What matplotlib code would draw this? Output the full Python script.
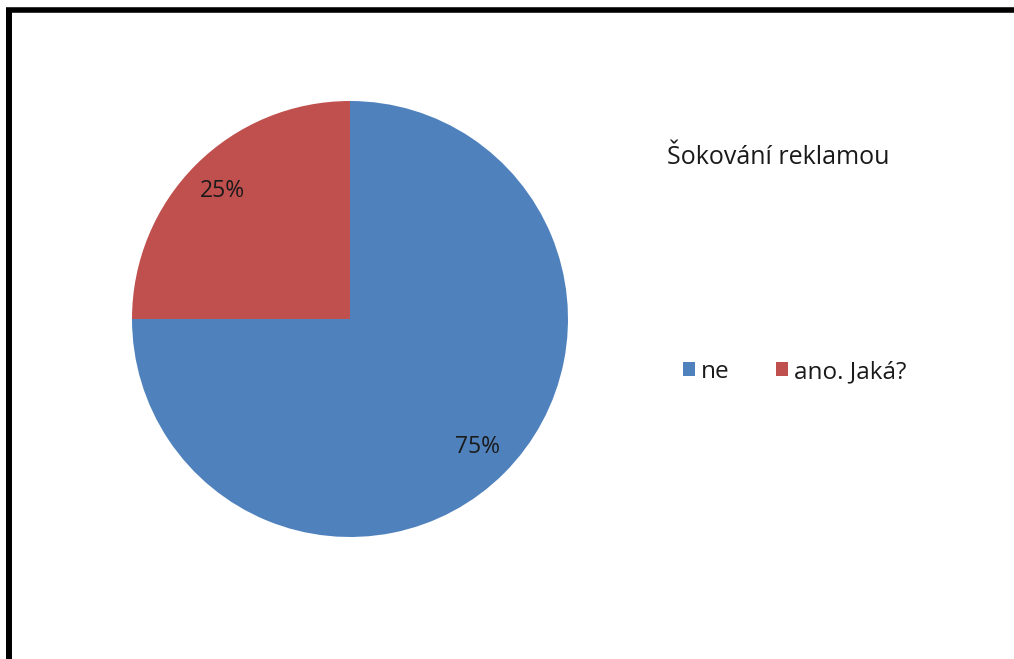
import matplotlib.pyplot as plt
from matplotlib.patches import Patch
from matplotlib.lines import Line2D

labels = ['ne', 'ano. Jaká?']
values = [75, 25]
colors = ['#4F81BD', '#C0504D']
title = 'Šokování reklamou'

plt.rcParams['font.family'] = ['Open Sans', 'DejaVu Sans']

W, H = 1014, 659
fig = plt.figure(figsize=(W / 100, H / 100), dpi=100)
fig.patch.set_facecolor('white')

# pie axes: centre (350, 319), radius 218 px
cx, cy, r = 350, 319, 218
ax = fig.add_axes([(cx - r) / W, 1 - (cy + r) / H, 2 * r / W, 2 * r / H])
ax.pie(values, colors=colors, startangle=90, counterclock=False,
       autopct='%1.0f%%', pctdistance=0.83,
       textprops={'fontsize': 16.5, 'color': '#1a1a1a'},
       wedgeprops={'linewidth': 0})
ax.set_xlim(-1, 1)
ax.set_ylim(-1, 1)
ax.set_aspect('equal')
ax.axis('off')

fig.text(667 / W, 1 - 158 / H, title, fontsize=18, color='#1a1a1a',
         ha='left', va='center')

handles = [Patch(facecolor=c, edgecolor='none') for c in colors]
fig.legend(handles, labels, loc='center left',
           bbox_to_anchor=(661 / W, 1 - 372 / H), ncol=2, frameon=False,
           fontsize=17.5, handlelength=0.5, handleheight=0.5,
           handletextpad=0.25, columnspacing=1.9, labelcolor='#1a1a1a')

# frame lines (left and top only)
fig.add_artist(Line2D([9 / W, 9 / W], [0, 1 - 12 / H], color='black',
                      linewidth=4.3, solid_capstyle='butt',
                      transform=fig.transFigure))
fig.add_artist(Line2D([6 / W, 1], [1 - 9.5 / H, 1 - 9.5 / H], color='black',
                      linewidth=4, solid_capstyle='butt',
                      transform=fig.transFigure))

fig.savefig('out.png', dpi=100)
